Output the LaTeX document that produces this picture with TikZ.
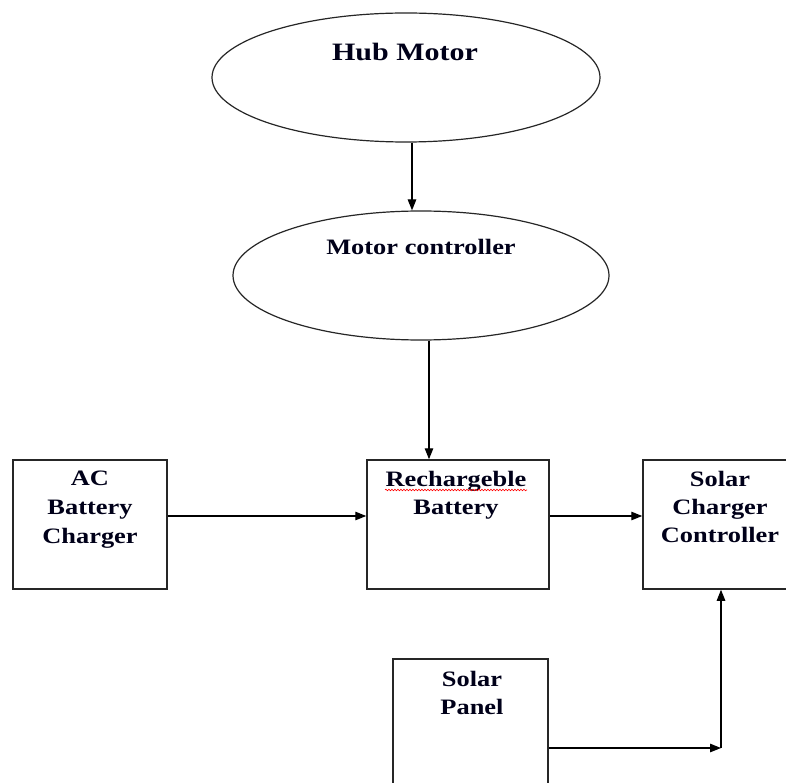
\documentclass[tikz,border=0pt]{standalone}
\usepackage{fontspec}
\setmainfont{Liberation Serif}
\usetikzlibrary{shapes.geometric,arrows.meta,decorations.pathmorphing,calc}
\newcommand\wlbl[1]{\scalebox{1.2}[1]{#1}}
\begin{document}
\begin{tikzpicture}[x=1pt,y=-1pt,
  box/.style={draw=black!85,line width=1.5pt,rectangle,inner sep=0pt,minimum height=129pt},
  oval/.style={draw=black!85,line width=1.2pt,ellipse,inner sep=0pt},
  txt/.style={anchor=base,inner sep=0pt,font=\bfseries\fontsize{22}{29}\selectfont,text=black!90!blue},
  arr/.style={draw=black,line width=1.2pt,-{Triangle[length=11pt,width=8.5pt]}}]
\useasboundingbox (0,0) rectangle (786,783);
\clip (0,0) rectangle (786,783);
\fill[white] (0,0) rectangle (786,783);
% ellipses
\node[oval,minimum width=388pt,minimum height=129pt] (hub) at (406,77.5) {};
\node[oval,minimum width=376pt,minimum height=129pt] (mc) at (421,275.5) {};
\node[txt,font=\bfseries\fontsize{25}{30}\selectfont] (hubt) at (405,61) {\wlbl{Hub Motor}};
\node[txt] (mct) at (421,255) {\wlbl{Motor controller}};
% boxes
\node[box,minimum width=154pt] (ac) at (90,524.5) {};
\node[box,minimum width=182pt] (rech) at (458,524.5) {};
\node[box,minimum width=154pt] (scc) at (720,524.5) {};
\node[box,minimum width=155pt] (sp) at (470.5,723.5) {};
% labels
\node[txt] (ac1) at (90,485) {\wlbl{AC}};
\node[txt] (ac2) at (90,514) {\wlbl{Battery}};
\node[txt] (ac3) at (90,543) {\wlbl{Charger}};
\node[txt] (re1) at (456,486) {\wlbl{Rechargeble}};
\node[txt] (re2) at (456,514) {\wlbl{Battery}};
\node[txt] (sc1) at (720,486) {\wlbl{Solar}};
\node[txt] (sc2) at (720,514) {\wlbl{Charger}};
\node[txt] (sc3) at (720,542) {\wlbl{Controller}};
\node[txt] (sp1) at (472,686) {\wlbl{Solar}};
\node[txt] (sp2) at (472,714) {\wlbl{Panel}};
% spell-check squiggle
\draw[red,line width=0.6pt,decorate,decoration={snake,amplitude=0.8pt,segment length=3pt}] (385,490) -- (527,490);
% connectors
\draw[arr] ([xshift=6pt]hub.south) -- ([xshift=-9pt]mc.north);
\draw[arr] ([xshift=8pt]mc.south) -- ([xshift=8pt]mc.south |- rech.north);
\draw[arr] ([yshift=8.5pt]ac.east) -- ([yshift=8.5pt]ac.east -| rech.west);
\draw[arr] ([yshift=8.5pt]rech.east) -- ([yshift=8.5pt]rech.east -| scc.west);
\coordinate (corner) at (721,748);
\draw[arr] (sp.east |- corner) -- (corner);
\draw[arr] (corner) -- (corner |- scc.south);
\end{tikzpicture}
\end{document}
